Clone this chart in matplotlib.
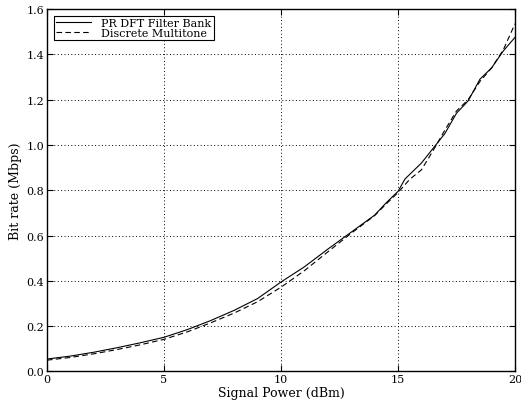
import matplotlib
matplotlib.use("Agg")
from matplotlib import pyplot as plt

# signal power (dBm) and bit rates (Mbps)
power_dft = [0, 1, 2, 3, 4, 5, 6, 7, 8, 9, 10, 11, 12, 13, 14, 14.5,
             15, 15.3, 16, 16.5, 17, 17.5, 18, 18.5, 19, 19.5, 20]
rate_dft = [0.055, 0.068, 0.085, 0.105, 0.127, 0.151, 0.185, 0.225, 0.270,
            0.322, 0.395, 0.462, 0.540, 0.615, 0.690, 0.745, 0.795, 0.850,
            0.920, 0.985, 1.050, 1.140, 1.195, 1.290, 1.340, 1.415, 1.475]

power_dmt = [0, 1, 2, 3, 4, 5, 6, 7, 8, 9, 10, 11, 12, 13, 14, 14.5,
             15, 15.5, 16, 16.5, 17, 17.5, 18, 18.5, 19, 19.5, 20]
rate_dmt = [0.050, 0.062, 0.078, 0.097, 0.118, 0.142, 0.175, 0.215, 0.258,
            0.308, 0.372, 0.445, 0.528, 0.610, 0.688, 0.740, 0.790, 0.848,
            0.890, 0.975, 1.065, 1.150, 1.200, 1.280, 1.340, 1.420, 1.535]

x_ticks = [0, 5, 10, 15, 20]
y_ticks = [0.0, 0.2, 0.4, 0.6, 0.8, 1.0, 1.2, 1.4, 1.6]

plt.rcParams['font.family'] = ['DejaVu Serif']

fig = plt.figure(figsize=(5.21, 4.02), dpi=100)
ax = fig.add_axes([0.0902, 0.0734, 0.8983, 0.9017])

ax.plot(power_dft, rate_dft, color='k', linewidth=0.8, linestyle='-',
        label='PR DFT Filter Bank')
ax.plot(power_dmt, rate_dmt, color='k', linewidth=0.8, linestyle=(0, (5, 3)),
        label='Discrete Multitone')

ax.set_xlim(0, 20)
ax.set_ylim(0, 1.6)
ax.set_xticks(x_ticks)
ax.set_yticks(y_ticks)
ax.set_yticklabels(['%.1f' % v for v in y_ticks])
ax.tick_params(direction='in', top=True, right=True, labelsize=8, length=4,
               pad=2)
ax.grid(True, color='k', linestyle=(0, (1, 2.5)), linewidth=0.7)
for s in ax.spines.values():
    s.set_linewidth(1.0)

ax.set_xlabel('Signal Power (dBm)', fontsize=9, labelpad=1)
ax.set_ylabel('Bit rate (Mbps)', fontsize=9, labelpad=3)

leg = ax.legend(loc='upper left', fontsize=8, fancybox=False,
                edgecolor='k', framealpha=1, borderpad=0.2, labelspacing=0.0,
                handlelength=3.2, borderaxespad=0.6, handletextpad=0.9)
leg.get_frame().set_linewidth(0.8)

fig.savefig('out.png', dpi=100)
